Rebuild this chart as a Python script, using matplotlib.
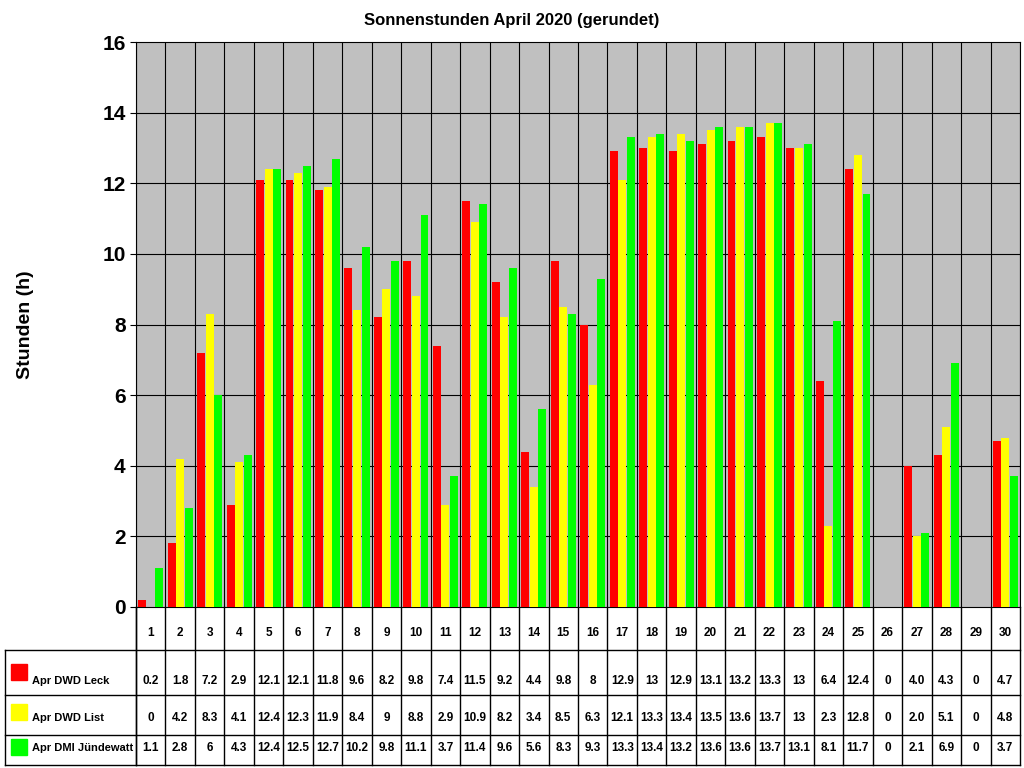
import matplotlib
matplotlib.use("Agg")
import matplotlib.pyplot as plt
import numpy as np

days = list(range(1, 31))
leck_lbl = "0.2 1.8 7.2 2.9 12.1 12.1 11.8 9.6 8.2 9.8 7.4 11.5 9.2 4.4 9.8 8 12.9 13 12.9 13.1 13.2 13.3 13 6.4 12.4 0 4.0 4.3 0 4.7".split()
list_lbl = "0 4.2 8.3 4.1 12.4 12.3 11.9 8.4 9 8.8 2.9 10.9 8.2 3.4 8.5 6.3 12.1 13.3 13.4 13.5 13.6 13.7 13 2.3 12.8 0 2.0 5.1 0 4.8".split()
dmi_lbl = "1.1 2.8 6 4.3 12.4 12.5 12.7 10.2 9.8 11.1 3.7 11.4 9.6 5.6 8.3 9.3 13.3 13.4 13.2 13.6 13.6 13.7 13.1 8.1 11.7 0 2.1 6.9 0 3.7".split()
series = [("Apr DWD Leck", leck_lbl, "#ff0000"),
          ("Apr DWD List", list_lbl, "#ffff00"),
          ("Apr DMI Jündewatt", dmi_lbl, "#00ff00")]

plt.rcParams['font.family'] = ['Liberation Sans', 'DejaVu Sans']
fig = plt.figure(figsize=(10.24, 7.68), dpi=100)
W, H = 1024, 768
L, R, T, B = 136, 1020, 42, 607
ax = fig.add_axes([L/W, 1-B/H, (R-L)/W, (B-T)/H])
ax.set_facecolor("#c0c0c0")
x = np.arange(1, 31)
for i, (name, lbl, col) in enumerate(series):
    vals = [float(v) for v in lbl]
    ax.bar(x + (i-1)*0.29, vals, width=0.27, color=col, zorder=3)
ax.set_xlim(0.5, 30.5)
ax.set_ylim(0, 16)
ax.set_yticks(range(0, 17, 2))
ax.tick_params(axis='y', labelsize=15, length=4)
for t in ax.get_yticklabels():
    t.set_fontweight('bold')
ax.set_xticks([])
for b in np.arange(0.5, 31, 1):
    ax.axvline(b, color='black', lw=0.8, zorder=1)
for yv in range(2, 16, 2):
    ax.axhline(yv, color='black', lw=0.8, zorder=1)
for s in ax.spines.values():
    s.set_color('black'); s.set_linewidth(0.8)
ax.set_ylabel("Stunden (h)", fontsize=14, fontweight='bold')
ax.yaxis.set_label_coords(-102/(R-L), 0.5)
fig.text(0.5, 1-20/H, "Sonnenstunden April 2020 (gerundet)", ha='center', va='center',
         fontsize=12, fontweight='bold')

# table
tx = fig.add_axes([0, 0, 1, 1])
tx.set_xlim(0, W); tx.set_ylim(H, 0); tx.axis('off')
cw = (R-L)/30
rows = [607, 650, 695, 735, 765]
for yy in rows[1:]:
    tx.plot([5, R], [yy, yy], color='black', lw=1)
tx.plot([5, 5], [650, 765], color='black', lw=1)
tx.plot([L, L], [607, 765], color='black', lw=1)
for j in range(31):
    xx = L + j*cw
    tx.plot([xx, xx], [607, 765], color='black', lw=1)
for j, d in enumerate(days):
    tx.text(L + (j+0.5)*cw, 633, str(d), ha='center', va='center', fontsize=8.5, fontweight='bold')
text_y = [681, 718, 748]
sq_y = [664, 704, 739]
for r, (name, lbl, col) in enumerate(series):
    ytxt = text_y[r]
    tx.add_patch(plt.Rectangle((11, sq_y[r]), 16, 16, color=col))
    tx.text(32, ytxt, name, ha='left', va='center', fontsize=8, fontweight='bold')
    for j, v in enumerate(lbl):
        tx.text(L + (j+0.5)*cw, ytxt, v, ha='center', va='center', fontsize=8.5, fontweight='bold')

fig.savefig("out.png", dpi=100)
